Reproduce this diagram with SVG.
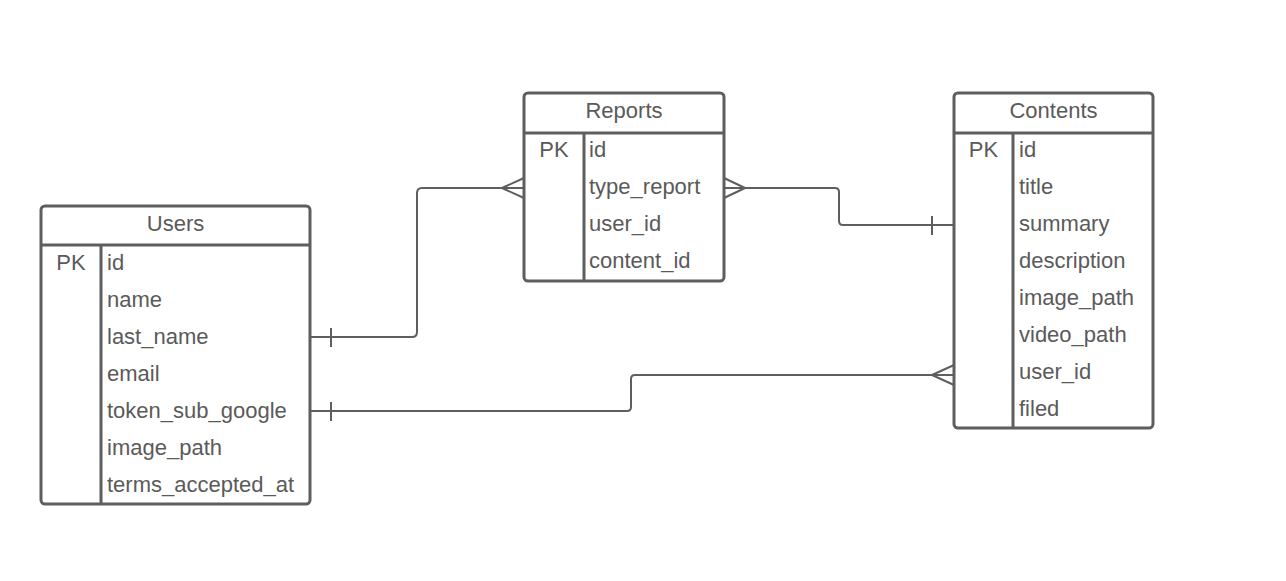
<svg xmlns="http://www.w3.org/2000/svg" width="1286" height="581" viewBox="0 0 1286 581">
<style>
.box{fill:#fff;stroke:#5e5e5e;stroke-width:3}
.ln{fill:none;stroke:#5e5e5e;stroke-width:3}
.cn{fill:none;stroke:#5e5e5e;stroke-width:2}
text{font-family:"Liberation Sans",Arial,sans-serif;font-size:22px;fill:#5a5a5a}
.c{text-anchor:middle}
</style>
<rect width="1286" height="581" fill="#fff"/>
<g id="connectors">
<path class="cn" d="M310,337 H412 Q417,337 417,332 V193 Q417,188 422,188 H524"/>
<path class="cn" d="M331,328 V347 M502,188 L524,178 M502,188 L524,198"/>
<path class="cn" d="M724,188 H835 Q839,188 839,192 V221 Q839,225 843,225 H954"/>
<path class="cn" d="M745,188 L724,178 M745,188 L724,198 M932,216 V235"/>
<path class="cn" d="M310,411 H627 Q631,411 631,407 V379 Q631,375 635,375 H954"/>
<path class="cn" d="M331,402 V421 M932,375 L954,365 M932,375 L954,385"/>
</g>
<g id="users">
<rect class="box" x="41" y="206" width="269" height="298" rx="4"/>
<path class="ln" d="M41,245 H310 M101,245 V504"/>
<text class="c" x="175.5" y="231">Users</text>
<text class="c" x="71" y="270">PK</text>
<text x="107" y="270">id</text>
<text x="107" y="307">name</text>
<text x="107" y="344">last_name</text>
<text x="107" y="381">email</text>
<text x="107" y="418">token_sub_google</text>
<text x="107" y="455">image_path</text>
<text x="107" y="492">terms_accepted_at</text>
</g>
<g id="reports">
<rect class="box" x="524" y="93" width="200" height="188" rx="4"/>
<path class="ln" d="M524,133 H724 M584,133 V281"/>
<text class="c" x="624" y="118">Reports</text>
<text class="c" x="554" y="157">PK</text>
<text x="589" y="157">id</text>
<text x="589" y="194">type_report</text>
<text x="589" y="231">user_id</text>
<text x="589" y="268">content_id</text>
</g>
<g id="contents">
<rect class="box" x="954" y="93" width="199" height="335" rx="4"/>
<path class="ln" d="M954,133 H1153 M1013,133 V428"/>
<text class="c" x="1053.5" y="118">Contents</text>
<text class="c" x="983.5" y="157">PK</text>
<text x="1019" y="157">id</text>
<text x="1019" y="194">title</text>
<text x="1019" y="231">summary</text>
<text x="1019" y="268">description</text>
<text x="1019" y="305">image_path</text>
<text x="1019" y="342">video_path</text>
<text x="1019" y="379">user_id</text>
<text x="1019" y="416">filed</text>
</g>
</svg>
